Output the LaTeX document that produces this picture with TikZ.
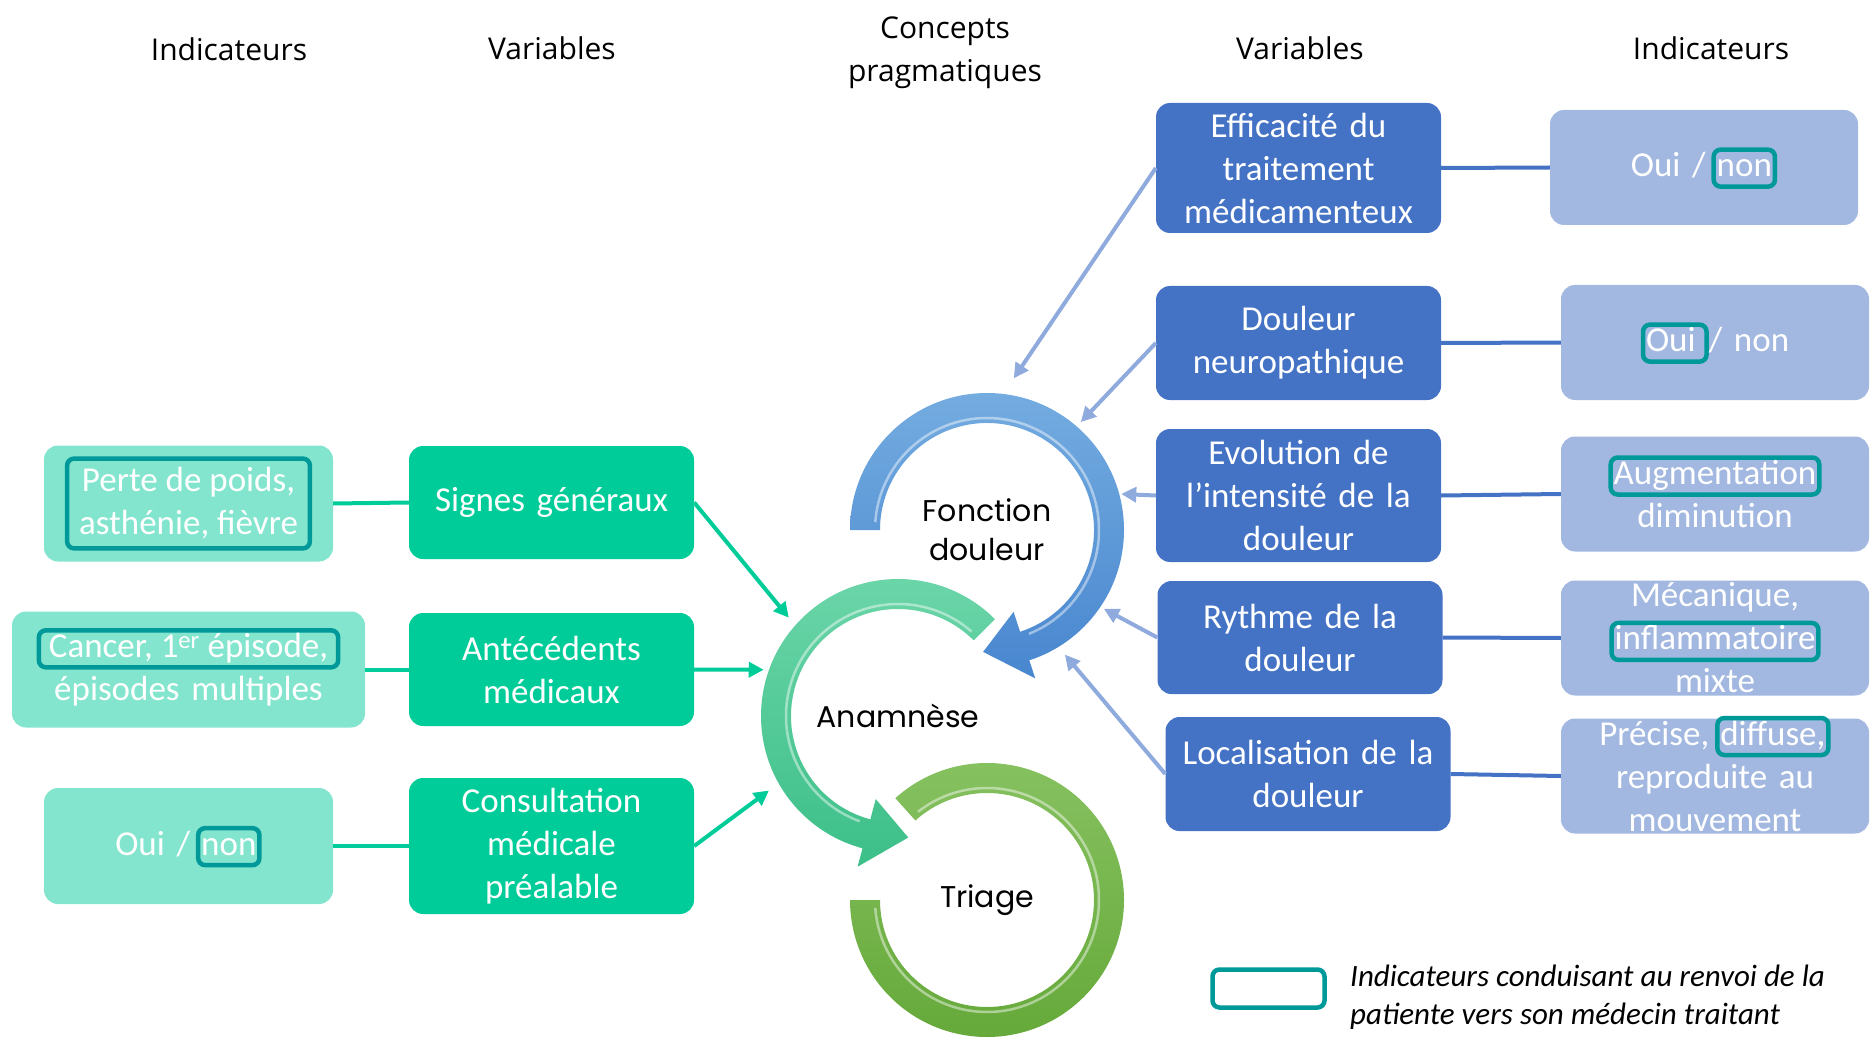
\documentclass[tikz,border=0pt]{standalone}
\usepackage{fontspec}
\setmainfont{Carlito}
\newfontfamily\headfont{Open Sans}
\newfontfamily\ringfont{Poppins}
\usetikzlibrary{arrows.meta,calc}

\definecolor{vertV}{HTML}{00CC99}
\definecolor{vertI}{HTML}{84E5CE}
\definecolor{bleuV}{HTML}{4472C4}
\definecolor{bleuI}{HTML}{A2B8E0}
\definecolor{bleuF}{HTML}{8FAADC}
\definecolor{renvoiC}{HTML}{00999A}
\definecolor{fctHaut}{HTML}{74ACE0}
\definecolor{fctBas}{HTML}{4886CF}
\definecolor{anaHaut}{HTML}{6DD6AA}
\definecolor{anaBas}{HTML}{3CBF88}
\definecolor{triHaut}{HTML}{88C262}
\definecolor{triBas}{HTML}{64A838}

\tikzset{
  boite/.style={rounded corners=14pt, text=white, align=center, inner sep=0pt,
    font=\fontsize{35}{43}\selectfont},
  varG/.style={boite, fill=vertV, minimum width=285pt, minimum height=113pt, text width=275pt},
  indG/.style={boite, fill=vertI, minimum width=289pt, minimum height=116pt, text width=275pt},
  varD/.style={boite, fill=bleuV, minimum width=285pt, minimum height=114pt, text width=275pt},
  indD/.style={boite, fill=bleuI, minimum width=308pt, minimum height=115pt, text width=300pt},
  renvoi/.style={draw=renvoiC, line width=4.5pt, rounded corners=7pt, fill=none,
    text width={}, minimum width=0pt, minimum height=0pt,
    inner xsep=3pt, inner ysep=2pt, text height=25pt, text depth=8pt},
  titre/.style={font=\headfont\fontsize{30}{43}\selectfont, align=center},
  anneau/.style={font=\ringfont\fontsize{30}{39}\selectfont, align=center},
  reflet/.style={white, opacity=0.45, line width=2.5pt},
  lienG/.style={vertV, line width=4pt},
  lienD/.style={bleuV, line width=4pt},
  flecheG/.style={vertV, line width=4pt, -{Triangle[length=15pt,width=15pt]}},
  flecheD/.style={bleuF, line width=4pt, -{Triangle[length=15pt,width=15pt]}},
}
\newcommand{\renvoi}[2][]{\smash{\tikz[baseline=(r.base)]\node[renvoi,#1] (r) {#2};}\vphantom{dg}}

\begin{document}
\begin{tikzpicture}[x=1pt,y=1pt]
\useasboundingbox (0,0) rectangle (1870,-1040);

% titres
\node[titre] (hI1) at (229,-49) {Indicateurs};
\node[titre] (hV1) at (552,-48) {Variables};
\node[titre] (hC) at (945,-53) {Concepts\\pragmatiques};
\node[titre] (hV2) at (1300,-48) {Variables};
\node[titre] (hI2) at (1711,-48) {Indicateurs};

% anneaux
\coordinate (cF) at (987,-530);
\coordinate (cA) at (898,-716);
\coordinate (cT) at (987,-900);

\shade[top color=triHaut, bottom color=triBas]
  ($(cT)+(132:137)$) arc[start angle=132, end angle=-180, radius=137]
  -- ($(cT)+(180:107)$) arc[start angle=-180, end angle=132, radius=107]
  -- cycle;
\draw[reflet] ($(cT)+(128:112)$) arc[start angle=128, end angle=-176, radius=112];
\shade[top color=anaHaut, bottom color=anaBas]
  ($(cA)+(45:137)$) arc[start angle=45, end angle=255, radius=137]
  -- ($(cA)+(255:156)$)
  -- ($(cA)+(255:122)+(355:42)$)
  -- ($(cA)+(255:86)$)
  -- ($(cA)+(255:107)$) arc[start angle=255, end angle=45, radius=107]
  -- cycle;
\draw[reflet] ($(cA)+(49:112)$) arc[start angle=49, end angle=250, radius=112];
\shade[top color=fctHaut, bottom color=fctBas]
  ($(cF)+(180:137)$) arc[start angle=180, end angle=-72, radius=137]
  -- ($(cF)+(-72:156)$)
  -- ($(cF)+(-72:122)+(-172:42)$)
  -- ($(cF)+(-72:86)$)
  -- ($(cF)+(-72:107)$) arc[start angle=-72, end angle=180, radius=107]
  -- cycle;
\draw[reflet] ($(cF)+(176:112)$) arc[start angle=176, end angle=-68, radius=112];

\node[anneau] (fct) at (cF) {Fonction\\douleur};
\node[anneau] (ana) at (cA) {Anamnèse};
\node[anneau] (tri) at (cT) {Triage};

% cote gauche
\node[indG] (I1) at (188.5,-503.5) {\tikz\node[renvoi, align=center, text height={}, text depth={},
  inner xsep=12pt, inner ysep=9pt] {Perte de poids,\\asthénie, fièvre};};
\node[indG, minimum width=353pt, text width=340pt] (I2) at (188.5,-669.5)
  {\renvoi[inner xsep=10pt]{Cancer, 1\textsuperscript{er} épisode,}\\épisodes multiples};
\node[indG] (I3) at (188.5,-846) {Oui /\,\renvoi{non}};

\node[varG] (V1) at (551.5,-502.5) {Signes généraux};
\node[varG] (V2) at (551.5,-669.5) {Antécédents\\médicaux};
\node[varG, minimum height=136pt] (V3) at (551.5,-846) {Consultation\\médicale\\préalable};

\draw[lienG] (I1.east) -- (V1.west);
\draw[lienG] (I2.east) -- (V2.west);
\draw[lienG] (I3.east) -- (V3.west);

\coordinate (a1) at ($(cA)+(138:147)$);
\coordinate (a2) at ($(cA)+(161:142)$);
\coordinate (a3) at ($(cA)+(210:149)$);
\draw[flecheG] (V1.east) -- (a1);
\draw[flecheG] (V2.east) -- (a2);
\draw[flecheG] (V3.east) -- (a3);

% cote droit
\node[varD, minimum height=130pt] (RV1) at (1298.5,-168) {Efficacité du\\traitement\\médicamenteux};
\node[varD] (RV2) at (1298.5,-343) {Douleur\\neuropathique};
\node[varD, minimum height=133pt] (RV3) at (1298.5,-495.5) {Evolution de\\l’intensité de la\\douleur};
\node[varD, minimum height=113pt] (RV4) at (1300,-637.5) {Rythme de la\\douleur};
\node[varD] (RV5) at (1308,-774) {Localisation de la\\douleur};

\node[indD] (RI1) at (1704,-167.5) {Oui /\,\renvoi{non}};
\node[indD] (RI2) at (1715,-342.5) {\renvoi{Oui~}/ non};
\node[indD] (RI3) at (1715,-494) {\renvoi{Augmentation}\\diminution};
\node[indD] (RI4) at (1715,-638) {Mécanique,\\\renvoi{inflammatoire}\\mixte};
\node[indD] (RI5) at (1715,-776) {Précise,\,\renvoi{diffuse,}\\reproduite au\\mouvement};

\draw[lienD] (RV1.east) -- (RI1.west);
\draw[lienD] (RV2.east) -- (RI2.west);
\draw[lienD] (RV3.east) -- (RI3.west);
\draw[lienD] (RV4.east) -- (RI4.west);
\draw[lienD] (RV5.east) -- (RI5.west);

\coordinate (f1) at ($(cF)+(80:154)$);
\coordinate (f2) at ($(cF)+(49:143)$);
\coordinate (f3) at ($(cF)+(15:139)$);
\coordinate (f4) at ($(cF)+(-34:141)$);
\coordinate (f5) at ($(cF)+(-58:147)$);
\draw[flecheD] (RV1.west) -- (f1);
\draw[flecheD] (RV2.west) -- (f2);
\draw[flecheD] (RV3.west) -- (f3);
\draw[flecheD] (RV4.west) -- (f4);
\draw[flecheD] (RV5.west) -- (f5);

% legende
\node[draw=renvoiC, line width=4.5pt, rounded corners=7pt, minimum width=112pt,
  minimum height=38pt] (leg) at (1268.5,-988.5) {};
\node[anchor=west, align=left, inner sep=0pt, font=\itshape\fontsize{31}{38}\selectfont]
  (legtxt) at (1350,-997) {Indicateurs conduisant au renvoi de la\\patiente vers son médecin traitant};
\end{tikzpicture}
\end{document}
